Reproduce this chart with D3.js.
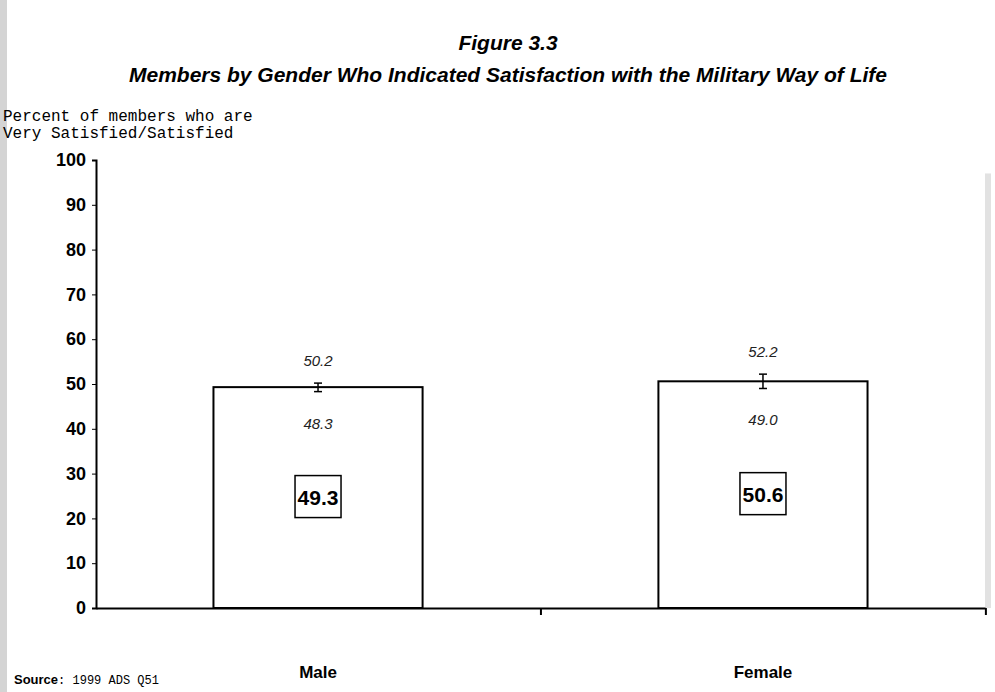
<!DOCTYPE html>
<html>
<head>
<meta charset="utf-8">
<script src="https://cdn.jsdelivr.net/npm/d3@7"></script>
<style>
  body { margin: 0; background: #fff; }
  svg { display: block; }
</style>
</head>
<body>
<div id="chart"></div>
<script>
const categories = ['Male', 'Female'];
const values = [49.3, 50.6];
const lower = [48.3, 49.0];
const upper = [50.2, 52.2];
const yTicks = [0, 10, 20, 30, 40, 50, 60, 70, 80, 90, 100];

const width = 995;
const height = 692;
const margin = {top: 160, bottom: 84, left: 96, right: 10};

const narrow = '"Liberation Sans Narrow", "Arial Narrow", "Liberation Sans", Arial, sans-serif';
const mono = '"Liberation Mono", "Courier New", monospace';
const sans = '"Liberation Sans", Arial, sans-serif';

const svg = d3.select('#chart')
    .append('svg')
    .attr('width', width)
    .attr('height', height);

const x = d3.scaleBand()
    .domain(categories)
    .range([margin.left, width - margin.right])
    .paddingInner(0.53)
    .paddingOuter(0.264);

const y = d3.scaleLinear()
    .domain([0, 100])
    .range([height - margin.bottom, margin.top]);

// scan edges
svg.append('rect')
    .attr('x', 0).attr('y', 0)
    .attr('width', 7).attr('height', height)
    .attr('fill', '#d4d4d4');
svg.append('rect')
    .attr('x', 985).attr('y', y(97))
    .attr('width', 6).attr('height', y(0) - y(97))
    .attr('fill', '#e2e2e2');

// titles
svg.append('text')
    .attr('x', 508).attr('y', 50)
    .attr('text-anchor', 'middle')
    .attr('font-family', narrow)
    .attr('font-weight', 'bold')
    .attr('font-style', 'italic')
    .attr('font-size', 21)
    .text('Figure 3.3');

svg.append('text')
    .attr('x', 508).attr('y', 82)
    .attr('text-anchor', 'middle')
    .attr('font-family', narrow)
    .attr('font-weight', 'bold')
    .attr('font-style', 'italic')
    .attr('font-size', 21)
    .text('Members by Gender Who Indicated Satisfaction with the Military Way of Life');

svg.append('text')
    .attr('x', 3).attr('y', 121)
    .attr('font-family', mono)
    .attr('font-size', 16)
    .text('Percent of members who are');
svg.append('text')
    .attr('x', 3).attr('y', 138)
    .attr('font-family', mono)
    .attr('font-size', 16)
    .text('Very Satisfied/Satisfied');

// bars
svg.append('g')
    .selectAll('rect')
    .data(categories)
    .join('rect')
        .attr('x', d => x(d))
        .attr('y', (d, i) => y(values[i]))
        .attr('width', x.bandwidth())
        .attr('height', (d, i) => y(0) - y(values[i]))
        .attr('fill', '#fff')
        .attr('stroke', '#000')
        .attr('stroke-width', 2);

// error bars
const err = svg.append('g').attr('stroke', '#000').attr('stroke-width', 1.5);
categories.forEach((c, i) => {
    const cx = x(c) + x.bandwidth() / 2;
    err.append('line')
        .attr('x1', cx).attr('x2', cx)
        .attr('y1', y(upper[i])).attr('y2', y(lower[i]));
    [upper[i], lower[i]].forEach(v => {
        err.append('line')
            .attr('x1', cx - 4).attr('x2', cx + 4)
            .attr('y1', y(v)).attr('y2', y(v));
    });
});

// value labels
const labels = svg.append('g');
categories.forEach((c, i) => {
    const cx = x(c) + x.bandwidth() / 2;
    labels.append('text')
        .attr('x', cx).attr('y', y(upper[i]) - 17)
        .attr('text-anchor', 'middle')
        .attr('font-family', sans)
        .attr('font-style', 'italic')
        .attr('font-size', 15)
        .attr('fill', '#222')
        .text(upper[i].toFixed(1));
    labels.append('text')
        .attr('x', cx).attr('y', y(lower[i]) + 37)
        .attr('text-anchor', 'middle')
        .attr('font-family', sans)
        .attr('font-style', 'italic')
        .attr('font-size', 15)
        .attr('fill', '#222')
        .text(lower[i].toFixed(1));
    const by = y(values[i] / 2);
    labels.append('rect')
        .attr('x', cx - 23).attr('y', by - 22)
        .attr('width', 46).attr('height', 42)
        .attr('fill', '#fff')
        .attr('stroke', '#000')
        .attr('stroke-width', 1.5);
    labels.append('text')
        .attr('x', cx).attr('y', by + 7)
        .attr('text-anchor', 'middle')
        .attr('font-family', sans)
        .attr('font-weight', 'bold')
        .attr('font-size', 21)
        .text(values[i].toFixed(1));
});

// y axis
const yAxis = svg.append('g')
    .attr('transform', `translate(${margin.left},0)`)
    .call(d3.axisLeft(y).tickValues(yTicks).tickSize(4).tickPadding(6));
yAxis.select('.domain').attr('stroke-width', 2);
yAxis.selectAll('text')
    .attr('font-family', narrow)
    .attr('font-weight', 'bold')
    .attr('font-size', 18)
    .attr('fill', '#000');

// x axis
const xAxis = svg.append('g')
    .attr('transform', `translate(0,${y(0)})`)
    .call(d3.axisBottom(x).tickSize(0).tickPadding(58));
xAxis.select('.domain').attr('stroke-width', 2);
xAxis.selectAll('text')
    .attr('font-family', narrow)
    .attr('font-weight', 'bold')
    .attr('font-size', 17)
    .attr('fill', '#000');
// category boundary ticks
const step = x.step();
xAxis.selectAll('.bound')
    .data(categories)
    .join('line')
        .attr('class', 'bound')
        .attr('x1', d => x(d) - x.paddingOuter() * step + step)
        .attr('x2', d => x(d) - x.paddingOuter() * step + step)
        .attr('y1', 0).attr('y2', 7)
        .attr('stroke', '#000')
        .attr('stroke-width', 2);

// source
const src = svg.append('text')
    .attr('x', 14).attr('y', 684)
    .attr('font-size', 12);
src.append('tspan')
    .attr('font-family', narrow)
    .attr('font-weight', 'bold')
    .attr('font-size', 13)
    .text('Source');
src.append('tspan')
    .attr('font-family', mono)
    .text(': 1999 ADS Q51');
</script>
</body>
</html>
